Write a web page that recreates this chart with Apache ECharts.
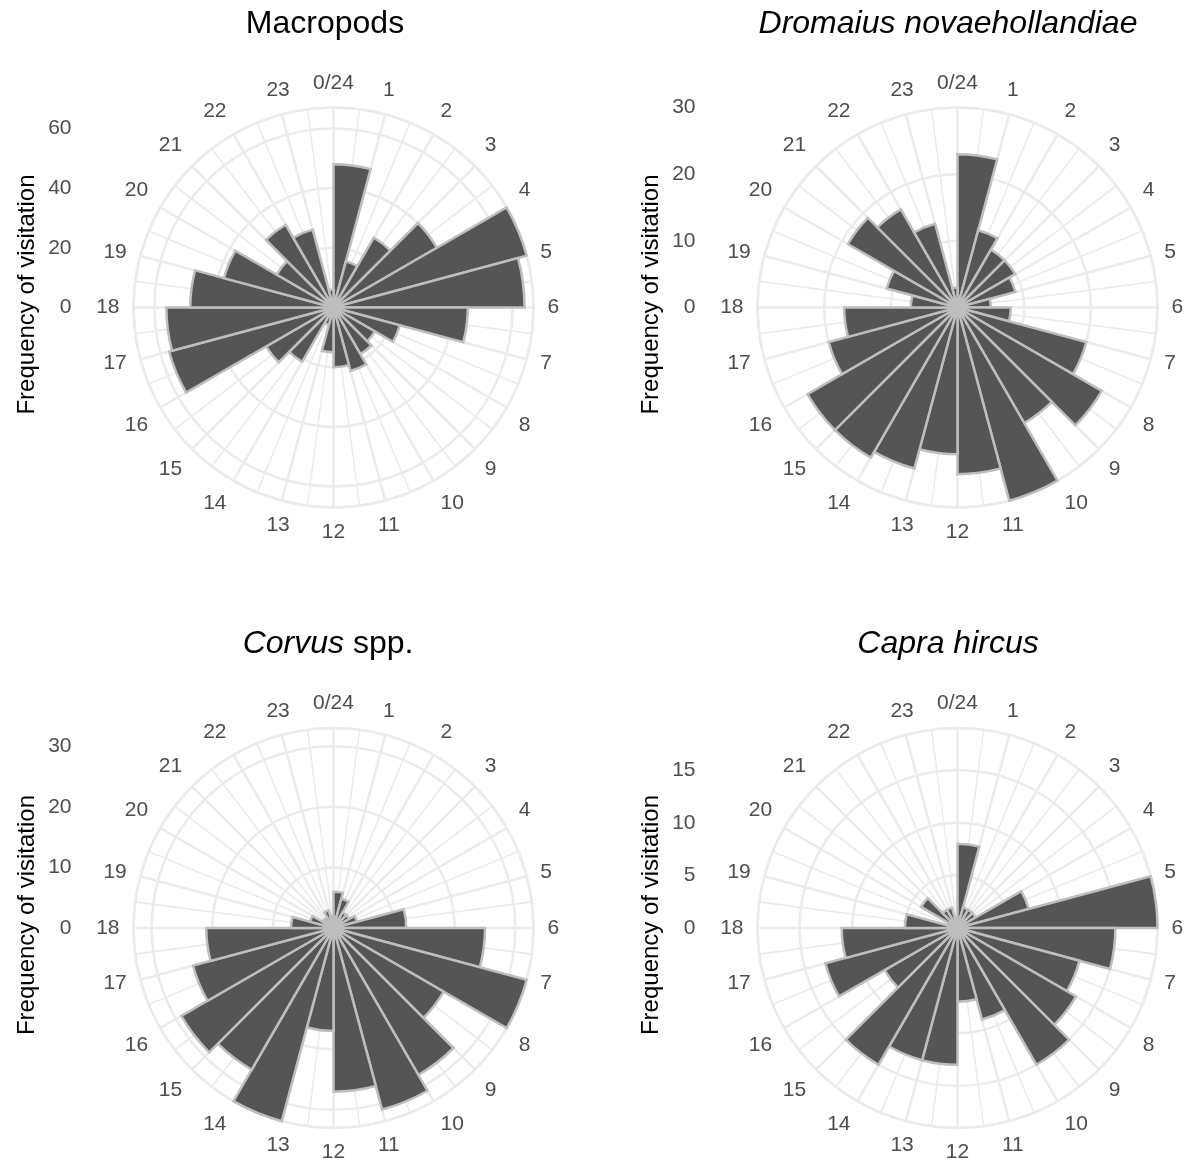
<!DOCTYPE html>
<html><head><meta charset="utf-8">
<script src="https://cdn.jsdelivr.net/npm/echarts@6/dist/echarts.min.js"></script>
<style>html,body{margin:0;padding:0;background:#fff}#c{width:1191px;height:1164px}</style>
</head><body><div id="c"></div>
<script>
// Hour categories (bars span hour h .. h+1) and angular tick labels
const hourLabels = ['0/24','1','2','3','4','5','6','7','8','9','10','11','12','13','14','15','16','17','18','19','20','21','22','23'];

// Frequency of visitation per hour (0..23)
const macropods = [48, 16, 27, 40, 67, 64, 45, 23, 16, 18, 22, 20, 15, 6, 21, 26, 57, 56, 48, 38, 22, 32, 27, 6];
const dromaius  = [23, 12, 10, 10, 9, 5, 8, 20, 25, 20, 30, 25, 22, 25, 26, 26, 20, 17, 7, 11, 19, 17, 13, 3];
const corvus    = [6, 5, 3, 3, 4, 12, 25, 33, 21, 28, 31, 27, 17, 33, 27, 29, 24, 21, 7, 4, 2, 2, 3, 2];
const capra     = [8, 2, 2, 2, 7, 19, 15, 12, 13, 15, 9, 7, 13, 13, 15, 8, 13, 11, 5, 1, 4, 2, 2, 1];

// Radial tick steps (tick labels 0, step, 2*step, ...)
const radialSteps = [20, 10, 10, 5];
const panelTitles = ['Macropods', '{i|Dromaius novaehollandiae}', '{i|Corvus} spp.', '{i|Capra hircus}'];
const yTitle = 'Frequency of visitation';

const FONT = '"Liberation Sans", Arial, Helvetica, sans-serif';
const GRID = '#EBEBEB';
const TXT = '#4D4D4D';

// layout (pixels)
const layout = [
  {cx: 333.5, cy: 307.5, tx: 325, ty: 24},
  {cx: 957.5, cy: 307.5, tx: 948, ty: 24},
  {cx: 333.5, cy: 928,   tx: 328, ty: 644},
  {cx: 957.5, cy: 928,   tx: 948, ty: 644}
];
const allValues = [macropods, dromaius, corvus, capra];
const R = 200;   // outer ring = data maximum

const polar = [], angleAxis = [], radiusAxis = [], series = [], grid = [], xAxis = [], yAxis = [], graphic = [];

allValues.forEach((vals, i) => {
  const L = layout[i];
  const step = radialSteps[i];
  const rMax = Math.max(...vals);
  polar.push({center: [L.cx, L.cy], radius: R});   // grid + labels
  polar.push({center: [L.cx, L.cy], radius: R});   // bars
  const gIdx = 2 * i, bIdx = 2 * i + 1;

  angleAxis.push({
    polarIndex: gIdx, type: 'value', min: 0, max: 24, interval: 1,
    startAngle: 90, clockwise: true,
    axisLine: {show: true, lineStyle: {color: GRID, width: 2.5}},
    axisTick: {show: false},
    minorTick: {show: false, splitNumber: 2},
    splitLine: {show: true, lineStyle: {color: GRID, width: 2.5}},
    minorSplitLine: {show: true, lineStyle: {color: GRID, width: 1.6}},
    axisLabel: {
      show: true, margin: 14, color: TXT, fontSize: 21, fontFamily: FONT,
      formatter: v => (v < 24 ? hourLabels[v] : '')
    },
    z: 0
  });
  radiusAxis.push({
    polarIndex: gIdx, type: 'value', min: 0, max: rMax, interval: step,
    axisLine: {show: false}, axisTick: {show: false}, axisLabel: {show: false},
    splitLine: {show: true, lineStyle: {color: GRID, width: 2.5}}
  });
  angleAxis.push({
    polarIndex: bIdx, type: 'category', data: hourLabels, boundaryGap: true,
    startAngle: 90, clockwise: true,
    axisLine: {show: false}, axisTick: {show: false}, axisLabel: {show: false}, splitLine: {show: false}
  });
  radiusAxis.push({
    polarIndex: bIdx, type: 'value', min: 0, max: rMax,
    axisLine: {show: false}, axisTick: {show: false}, axisLabel: {show: false}, splitLine: {show: false}
  });
  series.push({
    type: 'bar', coordinateSystem: 'polar', polarIndex: bIdx,
    data: vals, barCategoryGap: '0%', barGap: '0%',
    itemStyle: {color: '#555555', borderColor: '#BEBEBE', borderWidth: 2.5},
    silent: true, animation: false, z: 2
  });

  // radial tick labels on the left (cartesian axis sharing the same scale)
  grid.push({left: L.cx - 262, top: L.cy - R, width: 10, height: R, outerBoundsMode: 'none', containLabel: false});
  xAxis.push({gridIndex: i, type: 'value', show: false});
  yAxis.push({
    gridIndex: i, type: 'value', min: 0, max: rMax, interval: step,
    axisLine: {show: false}, axisTick: {show: false}, splitLine: {show: false},
    axisLabel: {margin: 0, color: TXT, fontSize: 21, fontFamily: FONT,
      formatter: v => (Math.abs(v / step - Math.round(v / step)) < 1e-9 ? String(v) : '')}
  });

  // panel title
  graphic.push({
    type: 'text', x: L.tx, y: L.ty, silent: true,
    style: {text: panelTitles[i], fontSize: 32, fontFamily: FONT, fill: '#000',
      align: 'center', verticalAlign: 'middle',
      rich: {i: {fontStyle: 'italic', fontSize: 32, fontFamily: FONT, fill: '#000'}}}
  });
  // y axis title
  graphic.push({
    type: 'text', x: L.cx - 306, y: L.cy - 13, rotation: Math.PI / 2, silent: true,
    style: {text: yTitle, fontSize: 24, fontFamily: FONT, fill: '#000', align: 'center', verticalAlign: 'middle'}
  });
});

const chart = echarts.init(document.getElementById('c'), null, {renderer: 'canvas'});
chart.setOption({
  animation: false,
  backgroundColor: '#ffffff',
  polar, angleAxis, radiusAxis, series, grid, xAxis, yAxis, graphic
});
</script></body></html>
